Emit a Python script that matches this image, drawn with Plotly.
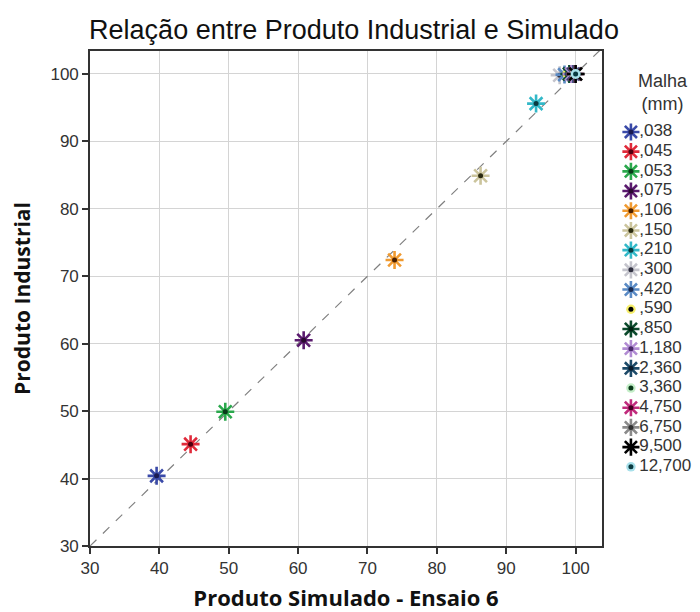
import plotly.graph_objects as go

malha = [",038", ",045", ",053", ",075", ",106", ",150", ",210", ",300", ",420",
         ",590", ",850", "1,180", "2,360", "3,360", "4,750", "6,750", "9,500", "12,700"]
simulado = [39.6, 44.5, 49.5, 60.8, 73.9, 86.3, 94.3, 97.7, 98.4, 98.8, 99.1, 99.4,
            99.7, 99.8, 99.9, 100.0, 100.0, 100.0]
industrial = [40.4, 45.1, 49.9, 60.5, 72.4, 84.9, 95.6, 99.8, 99.9, 100.0, 100.0, 100.0,
              100.0, 100.0, 100.0, 100.0, 100.0, 100.0]
colors = ["#3a4aa8", "#e02a3a", "#2aa84c", "#5a1a6e", "#f09a30", "#cbc49c", "#32b8c8",
          "#c4c4cc", "#5a8ac4", "#f6ee6a", "#0c4a2c", "#b08ad2", "#1c4a68", "#c4eec8",
          "#c02a7c", "#8a8a8a", "#000000", "#a8e0ea"]
centers = ["#1a1a50", "#500010", "#0a3a1a", "#2a0a30", "#4a2000", "#2a2a10", "#0a3a40",
           "#303040", "#1a2a50", "#000000", "#002010", "#4a2a6a", "#0a1a2a", "#0a3a1a",
           "#400020", "#303030", "#000000", "#0a3a40"]
symbols = ["asterisk-open"] * 9 + ["circle"] + ["asterisk-open"] * 3 + ["circle"] + \
          ["asterisk-open"] * 3 + ["circle"]
ref_line = [30, 104]

FONT = "Liberation Sans, Arial"


def marker_style(i, scale=1.0):
    if symbols[i] == "circle":
        return dict(symbol="circle", size=10 * scale, color=colors[i], line=dict(width=0))
    return dict(symbol="asterisk-open", size=15 * scale, color=colors[i],
                line=dict(width=2.6, color=colors[i]))


fig = go.Figure()
fig.add_trace(go.Scatter(x=ref_line, y=ref_line, mode="lines",
                         line=dict(color="#808080", width=1.2, dash="dash"),
                         showlegend=False, hoverinfo="skip"))

for i, name in enumerate(malha):
    fig.add_trace(go.Scatter(x=[simulado[i]], y=[industrial[i]], mode="markers",
                             name=name, marker=marker_style(i), showlegend=False))
    fig.add_trace(go.Scatter(x=[simulado[i]], y=[industrial[i]], mode="markers",
                             marker=dict(symbol="circle", size=5, color=centers[i]),
                             showlegend=False, hoverinfo="skip"))

# Legend drawn on a hidden side axis (one row per category)
leg_idx = list(range(len(malha)))
for i, name in enumerate(malha):
    fig.add_trace(go.Scatter(x=[0.25], y=[leg_idx[i]], mode="markers",
                             marker=marker_style(i, 0.95), xaxis="x2", yaxis="y2",
                             showlegend=False, hoverinfo="skip"))
    fig.add_trace(go.Scatter(x=[0.25], y=[leg_idx[i]], mode="markers",
                             marker=dict(symbol="circle", size=5, color=centers[i]),
                             xaxis="x2", yaxis="y2", showlegend=False, hoverinfo="skip"))
fig.add_trace(go.Scatter(x=[0.34] * len(malha), y=leg_idx, mode="text", text=malha,
                         textposition="middle right",
                         textfont=dict(family=FONT, size=17, color="#333333"),
                         xaxis="x2", yaxis="y2", showlegend=False, hoverinfo="skip",
                         cliponaxis=False))

axis_common = dict(showgrid=True, gridcolor="#d4d4d4", gridwidth=1.2,
                   showline=True, linecolor="#333333", linewidth=1.6, mirror=True,
                   ticks="outside", ticklen=6, tickwidth=1.6, tickcolor="#333333",
                   tickfont=dict(family=FONT, size=17, color="#333333"),
                   zeroline=False, dtick=10, automargin=False)

fig.update_layout(
    width=692, height=604,
    margin=dict(l=82, r=0, t=43, b=66),
    plot_bgcolor="white", paper_bgcolor="white",
    showlegend=False,
    title=dict(text="Relação entre Produto Industrial e Simulado", x=0.5, xanchor="center",
               y=0.9636, yanchor="middle",
               font=dict(family=FONT, size=27, color="#111111")),
    xaxis=dict(range=[30, 103.8], tick0=30, domain=[0, 0.8393],
               title=dict(text="<b>Produto Simulado - Ensaio 6</b>", standoff=16,
                          font=dict(family="Open Sans, Arial", size=22, color="#111111")),
               **axis_common),
    yaxis=dict(range=[30, 103.4], tick0=30,
               title=dict(text="<b>Produto Industrial</b>", standoff=15,
                          font=dict(family="Open Sans, Arial", size=21, color="#111111")),
               **axis_common),
    xaxis2=dict(domain=[0.849, 1.0], range=[0, 1], visible=False, fixedrange=True,
                anchor="y2"),
    yaxis2=dict(domain=[0, 1], range=[21.02, -4.11], visible=False, fixedrange=True,
                anchor="x2"),
    annotations=[dict(text="Malha<br>(mm)", xref="x2", yref="y2",
                      x=0.6, y=-1.98, xanchor="center", yanchor="middle",
                      showarrow=False,
                      font=dict(family=FONT, size=18, color="#333333"))],
)

fig.write_html("out.html")
